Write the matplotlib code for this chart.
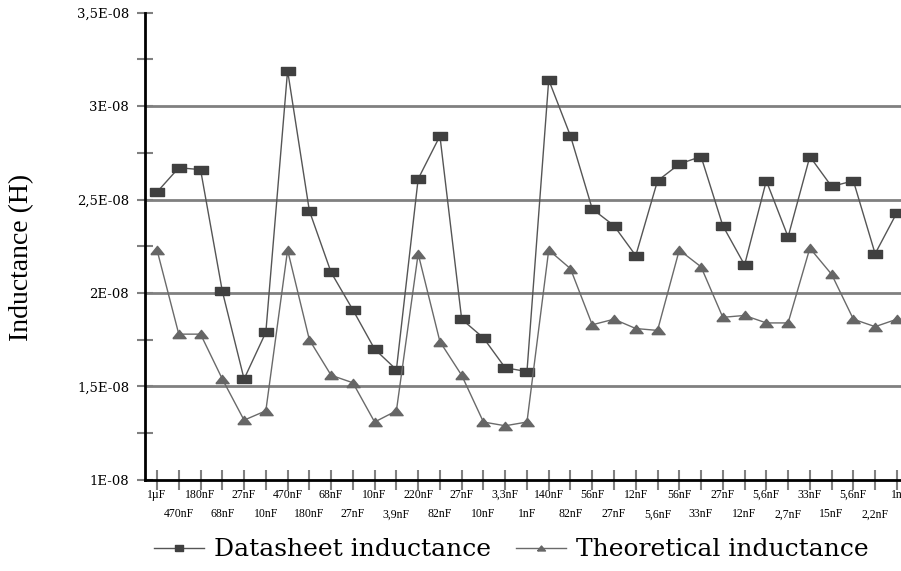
import matplotlib
matplotlib.use("Agg")
import matplotlib.pyplot as plt

# capacitor labels along the x axis
caps = ["1µF", "470nF", "180nF", "68nF", "27nF", "10nF", "470nF", "180nF",
        "68nF", "27nF", "10nF", "3,9nF", "220nF", "82nF", "27nF", "10nF",
        "3,3nF", "1nF", "140nF", "82nF", "56nF", "27nF", "12nF", "5,6nF",
        "56nF", "33nF", "27nF", "12nF", "5,6nF", "2,7nF", "33nF", "15nF",
        "5,6nF", "2,2nF", "1n"]

# inductance values, in units of 1E-08 H
datasheet = [2.54, 2.67, 2.66, 2.01, 1.54, 1.79, 3.19, 2.44, 2.11, 1.91,
             1.70, 1.59, 2.61, 2.84, 1.86, 1.76, 1.60, 1.58, 3.14, 2.84,
             2.45, 2.36, 2.20, 2.60, 2.69, 2.73, 2.36, 2.15, 2.60, 2.30,
             2.73, 2.57, 2.60, 2.21, 2.43]
theoretical = [2.23, 1.78, 1.78, 1.54, 1.32, 1.37, 2.23, 1.75, 1.56, 1.52,
               1.31, 1.37, 2.21, 1.74, 1.56, 1.31, 1.29, 1.31, 2.23, 2.13,
               1.83, 1.86, 1.81, 1.80, 2.23, 2.14, 1.87, 1.88, 1.84, 1.84,
               2.24, 2.10, 1.86, 1.82, 1.86]

yticks = [1e-8, 1.5e-8, 2e-8, 2.5e-8, 3e-8, 3.5e-8]
yticklabels = ["1E-08", "1,5E-08", "2E-08", "2,5E-08", "3E-08", "3,5E-08"]

plt.rcParams['font.family'] = ['Liberation Serif', 'DejaVu Serif']

fig = plt.figure(figsize=(9.01, 5.71), dpi=100)
ax = fig.add_axes([0.161, 0.1594, 0.840, 0.8186])

x = list(range(len(caps)))
ds = [v * 1e-8 for v in datasheet]
th = [v * 1e-8 for v in theoretical]

rect = [(-1.55, -1), (1.55, -1), (1.55, 1), (-1.55, 1), (-1.55, -1)]
tri = [(-1.6, -1), (1.6, -1), (0, 1), (-1.6, -1)]

ax.plot(x, ds, color="#555555", linewidth=1, marker=rect, markersize=9.5,
        markerfacecolor="#404040", markeredgecolor="#404040",
        label="Datasheet inductance")
ax.plot(x, th, color="#6a6a6a", linewidth=1, marker=tri, markersize=9.5,
        markerfacecolor="#666666", markeredgecolor="#666666",
        label="Theoretical inductance")

ax.set_ylim(1e-8, 3.5e-8)
ax.set_xlim(-0.55, 34.23)

ax.set_yticks(yticks)
ax.set_yticklabels(yticklabels, fontsize=9.5, family="DejaVu Serif")
ax.set_yticks([1.25e-8, 1.75e-8, 2.25e-8, 2.75e-8, 3.25e-8], minor=True)
ax.tick_params(axis='y', which='both', direction='inout', length=11,
               width=1.5, color="#808080", pad=6)

# alternate labels on two rows: even ones as major, odd ones as minor ticks
ax.set_xticks(x[::2])
ax.set_xticklabels(caps[::2], fontsize=8.5)
ax.set_xticks(x[1::2], minor=True)
ax.set_xticklabels(caps[1::2], minor=True, fontsize=8.5)
ax.tick_params(axis='x', which='both', direction='inout', length=15,
               width=1.5, color="#808080")
ax.tick_params(axis='x', which='major', pad=-1)
ax.tick_params(axis='x', which='minor', pad=13)

ax.yaxis.grid(True, color="#808080", linewidth=2)
ax.get_ygridlines()[-1].set_visible(False)
ax.get_ygridlines()[0].set_visible(False)
ax.set_axisbelow(True)

for s in ["top", "right"]:
    ax.spines[s].set_visible(False)
ax.spines["left"].set_linewidth(2)
ax.spines["bottom"].set_linewidth(2)

fig.text(0.024, 0.55, "Inductance (H)", rotation=90, fontsize=20,
         ha="center", va="center")

fig.legend(loc="center", bbox_to_anchor=(0.568, 0.037), ncol=2,
           frameon=False, prop={"family": "DejaVu Serif", "size": 18},
           markerscale=0.6, handlelength=2.0,
           columnspacing=1.0, handletextpad=0.4)

fig.savefig("out.png", dpi=100)
